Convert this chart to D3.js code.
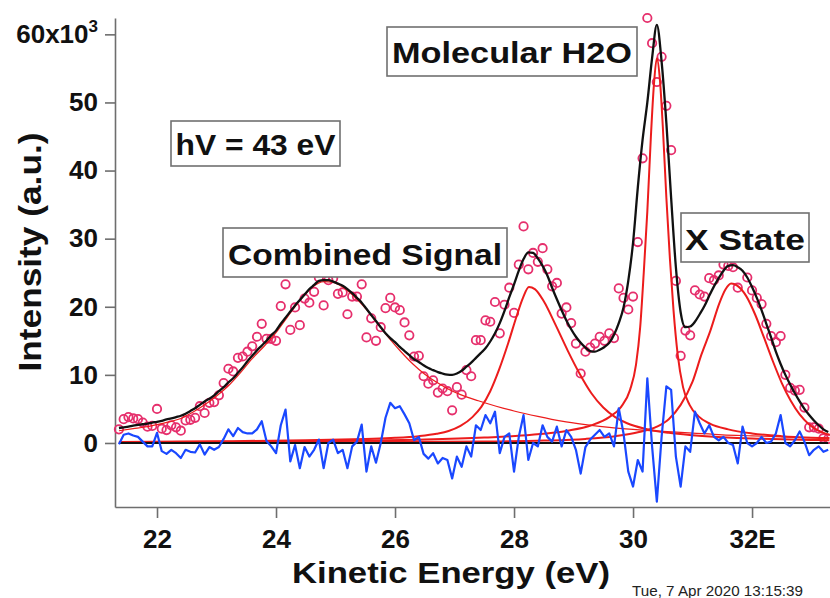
<!DOCTYPE html>
<html>
<head>
<meta charset="utf-8">
<script src="https://cdn.jsdelivr.net/npm/d3@7"></script>
<style>
  body { margin: 0; background: #fff; }
  svg { display: block; font-family: "Liberation Sans", Arial, sans-serif; }
</style>
</head>
<body>
<svg id="chart" width="830" height="598"></svg>
<script>
// values, intensity in units of 10^3

var energy = [
  21.36,21.44,21.52,21.60,21.68,21.76,21.84,21.92,22.00,22.08,
  22.16,22.24,22.32,22.40,22.48,22.56,22.64,22.72,22.80,22.88,
  22.96,23.04,23.12,23.20,23.28,23.36,23.44,23.52,23.60,23.68,
  23.76,23.84,23.92,24.00,24.08,24.16,24.24,24.32,24.40,24.48,
  24.56,24.64,24.72,24.80,24.88,24.96,25.04,25.12,25.20,25.28,
  25.36,25.44,25.52,25.60,25.68,25.76,25.84,25.92,26.00,26.08,
  26.16,26.24,26.32,26.40,26.48,26.56,26.64,26.72,26.80,26.88,
  26.96,27.04,27.12,27.20,27.28,27.36,27.44,27.52,27.60,27.68,
  27.76,27.84,27.92,28.00,28.08,28.16,28.24,28.32,28.40,28.48,
  28.56,28.64,28.72,28.80,28.88,28.96,29.04,29.12,29.20,29.28,
  29.36,29.44,29.52,29.60,29.68,29.76,29.84,29.92,30.00,30.08,
  30.16,30.24,30.32,30.40,30.48,30.56,30.64,30.72,30.80,30.88,
  30.96,31.04,31.12,31.20,31.28,31.36,31.44,31.52,31.60,31.68,
  31.76,31.84,31.92,32.00,32.08,32.16,32.24,32.32,32.40,32.48,
  32.56,32.64,32.72,32.80,32.88,32.96,33.04,33.12,33.20,33.28
];

// measured points (pink circles)
var counts = [
  2.0,3.5,3.8,3.6,3.5,3.0,2.4,2.5,5.0,2.1,
  1.9,2.6,2.3,1.8,3.3,3.4,3.7,5.4,4.4,5.9,
  6.0,7.0,8.8,10.9,10.5,12.5,12.7,13.4,14.2,15.6,
  17.5,15.3,15.3,15.0,20.1,23.3,16.6,19.9,17.3,21.2,
  20.6,22.2,24.3,20.2,23.9,24.2,21.9,22.1,18.9,21.5,
  21.5,23.3,15.5,18.3,15.0,17.0,19.8,21.3,19.9,19.5,
  17.7,15.8,12.7,12.8,9.8,8.7,9.2,7.4,8.0,7.6,
  4.8,8.2,7.1,10.7,9.8,15.1,15.1,18.0,17.8,20.7,
  16.1,20.3,22.8,19.1,26.2,31.8,25.5,27.9,26.6,28.6,
  25.5,23.0,23.5,19.0,19.9,17.6,14.6,10.2,13.4,14.0,
  14.6,15.6,15.0,16.1,15.4,22.7,21.3,19.6,21.5,29.5,
  41.8,62.4,58.7,53.0,56.7,49.5,43.0,23.8,12.8,16.5,
  15.8,22.4,21.8,21.5,24.2,23.9,24.6,26.2,26.0,25.8,
  22.8,27.7,24.3,22.4,21.3,20.4,17.5,15.7,14.8,15.7,
  10.0,8.1,7.7,7.8,5.2,2.3,2.3,2.1,0.7,0.6
];

// total fit (black)
var fitTotal = [
  2.2,2.3,2.4,2.55,2.65,2.75,2.85,3.0,3.1,3.25,
  3.45,3.6,3.8,4.0,4.3,4.7,5.1,5.6,6.1,6.5,
  7.0,7.6,8.2,8.9,9.5,10.3,11.1,12.0,12.8,13.6,
  14.3,15.0,15.8,16.5,17.5,18.4,19.3,20.2,21.0,21.8,
  22.6,23.2,23.8,23.9,23.9,23.7,23.4,23.1,22.6,22.0,
  21.3,20.6,19.7,18.8,17.9,17.0,16.1,15.4,14.8,14.1,
  13.5,12.9,12.3,11.9,11.4,11.0,10.7,10.4,10.2,10.05,
  10.0,10.2,10.6,11.2,11.8,12.5,13.2,13.9,14.9,16.1,
  17.6,19.4,21.4,23.3,25.3,27.0,28.0,27.9,27.1,26.0,
  24.6,22.8,21.1,19.5,18.0,16.7,15.6,14.7,14.0,13.5,
  13.4,13.7,14.1,14.7,15.9,17.6,19.9,23.8,29.4,37.5,
  44.5,50.0,56.5,61.4,56.0,47.0,36.0,25.8,19.2,17.0,
  17.1,17.8,18.9,20.1,21.6,23.0,24.2,25.3,26.0,26.1,
  25.8,25.3,24.3,22.9,21.3,19.5,17.5,15.5,13.4,11.6,
  10.0,8.6,7.3,6.1,5.0,4.1,3.3,2.6,2.0,1.6
];

// residual (blue)
var residual = [
  -0.2,1.2,1.4,1.1,0.9,0.2,-0.5,-0.5,1.5,-1.2,
  -1.6,-1.0,-1.5,-2.2,-1.0,-1.3,-1.4,-0.2,-1.7,-0.6,
  -1.0,-0.6,0.6,2.0,1.0,2.2,1.6,1.4,1.4,2.0,
  3.2,0.3,-0.5,-1.5,2.6,4.9,-2.7,-0.3,-3.7,-0.6,
  -2.0,-1.0,0.5,-3.7,0,0.5,-1.5,-1.0,-3.7,-0.5,
  0.2,2.7,-4.2,-0.5,-2.9,0,3.7,5.9,5.1,5.4,
  4.2,2.9,0.4,0.9,-1.6,-2.3,-1.5,-3.0,-2.2,-2.5,
  -5.2,-2.0,-3.5,-0.5,-2.0,2.6,1.9,4.1,2.9,4.6,
  -1.5,0.9,1.4,-4.2,0.9,4.1,-2.5,0,-0.5,2.6,
  0.9,0.2,2.4,-0.5,1.9,0.9,-1.0,-4.5,-0.6,0.5,
  1.2,1.9,0.9,1.4,-0.5,5.1,1.4,-4.2,-6.4,-2.5,
  -4.2,9.5,-0.5,-8.6,0.9,8.3,7.8,-2.0,-6.4,-0.5,
  -1.3,4.6,2.9,1.4,2.6,0.9,0.4,0.9,0,-0.3,
  -3.0,2.4,0,-0.5,0,0.9,0,0.2,1.4,4.1,
  0,-0.5,0.4,1.7,0.2,-1.8,-1.0,-0.5,-1.3,-1.0
];

// fit components (red), [energy, intensity]
var peakCombined = [
  [21.36,1.8],[21.6,2.1],[21.8,2.35],[22.0,2.7],[22.2,3.1],[22.4,3.6],[22.6,4.5],
  [22.8,5.6],[23.0,6.9],[23.2,8.4],[23.4,10.3],[23.6,12.4],[23.8,14.2],[24.0,16.2],
  [24.2,18.6],[24.4,20.9],[24.6,22.8],[24.8,23.7],[24.95,23.6],[25.1,23.0],[25.3,21.6],
  [25.5,19.8],[25.7,17.6],[25.9,15.4],[26.1,13.4],[26.3,11.6],[26.5,10.1],[26.7,8.9],
  [26.9,7.9],[27.1,7.1],[27.4,6.2],[27.7,5.4],[28.0,4.7],[28.4,3.9],[28.8,3.2],
  [29.2,2.7],[29.6,2.3],[30.0,2.0],[30.5,1.7],[31.0,1.45],[31.5,1.2],[32.0,1.05],
  [32.5,0.9],[33.0,0.8],[33.3,0.75]
];
var peak28 = [
  [21.36,0.15],[23.0,0.25],[24.5,0.4],[25.5,0.6],[26.0,0.75],[26.4,1.0],[26.7,1.35],
  [26.9,1.75],[27.1,2.5],[27.3,3.8],[27.45,5.3],[27.6,7.6],[27.75,10.8],[27.9,14.6],
  [28.05,18.8],[28.15,21.3],[28.25,22.9],[28.35,22.6],[28.5,20.8],[28.7,17.3],
  [28.9,13.6],[29.1,10.2],[29.3,7.3],[29.5,5.2],[29.7,3.8],[29.9,2.9],[30.2,2.1],
  [30.6,1.5],[31.0,1.15],[31.5,0.85],[32.0,0.65],[32.5,0.55],[33.0,0.45],[33.3,0.4]
];
var peakH2O = [
  [21.36,0.12],[23.0,0.18],[25.0,0.3],[26.5,0.5],[27.5,0.8],[28.3,1.2],[28.9,1.8],
  [29.3,2.6],[29.6,3.8],[29.8,5.3],[29.95,7.8],[30.05,11.5],[30.12,17],[30.18,25],
  [30.24,34],[30.3,45],[30.35,52.5],[30.4,56.5],[30.45,53.5],[30.5,46.5],[30.56,36],
  [30.62,27],[30.68,19.5],[30.75,13],[30.84,8.2],[30.95,5.6],[31.1,3.9],[31.3,2.8],
  [31.6,2.0],[32.0,1.4],[32.5,1.0],[33.0,0.78],[33.3,0.7]
];
var peakX = [
  [21.36,0.05],[25.0,0.1],[27.5,0.2],[28.5,0.35],[29.2,0.6],[29.7,1.0],[30.1,1.6],
  [30.4,2.4],[30.6,3.5],[30.8,5.6],[31.0,9.0],[31.15,13.0],[31.3,16.5],[31.45,20.5],
  [31.55,22.5],[31.65,23.4],[31.75,23.1],[31.9,21.6],[32.05,18.9],[32.2,15.5],
  [32.35,12.0],[32.5,8.8],[32.65,6.2],[32.8,4.2],[32.95,2.8],[33.1,1.9],[33.3,1.2]
];

var xTicks = [22, 24, 26, 28, 30, 32];
var xTickLabels = ["22", "24", "26", "28", "30", "32E"];
var yTicks = [0, 10, 20, 30, 40, 50, 60];
var yTickLabels = ["0", "10", "20", "30", "40", "50", "60x10"];

var svg = d3.select("#chart");

var x = d3.scaleLinear().domain([21.294, 33.31]).range([115, 830]);
var y = d3.scaleLinear().domain([-9.4, 62.4]).range([507, 18]);

var pts = energy.map(function(e, i) { return [e, counts[i]]; });
var fitPts = energy.map(function(e, i) { return [e, fitTotal[i]]; });
var resPts = energy.map(function(e, i) { return [e, residual[i]]; });

var smooth = d3.line()
  .x(function(d) { return x(d[0]); })
  .y(function(d) { return y(d[1]); })
  .curve(d3.curveMonotoneX);
var jagged = d3.line()
  .x(function(d) { return x(d[0]); })
  .y(function(d) { return y(d[1]); });

// axes
var gx = svg.append("g")
  .attr("transform", "translate(0," + y.range()[0] + ")")
  .call(d3.axisBottom(x).tickValues(xTicks).tickSize(11).tickSizeOuter(0).tickPadding(12)
    .tickFormat(function(d, i) { return xTickLabels[i]; }));
var gy = svg.append("g")
  .attr("transform", "translate(" + x.range()[0] + ",0)")
  .call(d3.axisLeft(y).tickValues(yTicks).tickSize(10).tickSizeOuter(0).tickPadding(7)
    .tickFormat(function(d, i) { return yTickLabels[i]; }));

[gx, gy].forEach(function(g) {
  g.select(".domain").attr("stroke", "#6e6e6e").attr("stroke-width", 1.6);
  g.selectAll(".tick line").attr("stroke", "#6e6e6e").attr("stroke-width", 1.6);
  g.selectAll(".tick text")
    .attr("fill", "#111")
    .style("font-size", "26px")
    .style("font-weight", "bold")
    .style("font-family", "'Liberation Sans', Arial, sans-serif");
});
// exponent on the top y label
gy.selectAll(".tick text").filter(function(d) { return d === 60; })
  .append("tspan").attr("dy", -11).style("font-size", "17px").text("3");

// data circles
svg.append("g").selectAll("circle")
  .data(pts)
  .join("circle")
  .attr("cx", function(d) { return x(d[0]); })
  .attr("cy", function(d) { return y(d[1]); })
  .attr("r", 4.2)
  .attr("fill", "none")
  .attr("stroke", "#e62f6c")
  .attr("stroke-width", 1.8);

// fit components
svg.append("path").attr("d", smooth(peakCombined))
  .attr("fill", "none").attr("stroke", "#ec1c1c").attr("stroke-width", 1.2);
[peak28, peakH2O, peakX].forEach(function(p) {
  svg.append("path").attr("d", smooth(p))
    .attr("fill", "none").attr("stroke", "#ec1c1c").attr("stroke-width", 2);
});

// total fit
svg.append("path").attr("d", smooth(fitPts))
  .attr("fill", "none").attr("stroke", "#111").attr("stroke-width", 2.3);

// zero line
svg.append("path")
  .attr("d", jagged([[energy[0], 0], [energy[energy.length - 1], 0]]))
  .attr("stroke", "#111").attr("stroke-width", 2.2);

// residual
svg.append("path").attr("d", jagged(resPts))
  .attr("fill", "none").attr("stroke", "#1a48ff").attr("stroke-width", 2.2)
  .attr("stroke-linejoin", "round");

// axis titles
svg.append("text")
  .attr("x", 451).attr("y", 583)
  .attr("text-anchor", "middle")
  .attr("textLength", 318).attr("lengthAdjust", "spacingAndGlyphs")
  .style("font-size", "30px").style("font-weight", "bold").attr("fill", "#111")
  .text("Kinetic Energy (eV)");
svg.append("text")
  .attr("transform", "translate(41,252) rotate(-90)")
  .attr("text-anchor", "middle")
  .attr("textLength", 239).attr("lengthAdjust", "spacingAndGlyphs")
  .style("font-size", "31px").style("font-weight", "bold").attr("fill", "#111")
  .text("Intensity (a.u.)");

// annotation boxes
function note(txt, bx, by, bw, bh, ty, tw) {
  svg.append("rect")
    .attr("x", bx).attr("y", by).attr("width", bw).attr("height", bh)
    .attr("fill", "#fff").attr("stroke", "#707070").attr("stroke-width", 1.6);
  svg.append("text")
    .attr("x", bx + bw / 2).attr("y", ty)
    .attr("text-anchor", "middle")
    .attr("textLength", tw).attr("lengthAdjust", "spacingAndGlyphs")
    .style("font-size", "30px").style("font-weight", "bold").attr("fill", "#111")
    .text(txt);
}
note("Molecular H2O", 387, 27, 250, 49, 63, 240);
note("hV = 43 eV", 171, 121, 169, 45, 155, 160);
note("Combined Signal", 223, 228, 284, 49, 265, 274);
note("X State", 681, 213, 128, 49, 250, 120);

// time stamp
svg.append("text")
  .attr("x", 632).attr("y", 596)
  .attr("textLength", 171).attr("lengthAdjust", "spacingAndGlyphs")
  .style("font-size", "14px").attr("fill", "#222")
  .text("Tue, 7 Apr 2020 13:15:39");
</script>
</body>
</html>
